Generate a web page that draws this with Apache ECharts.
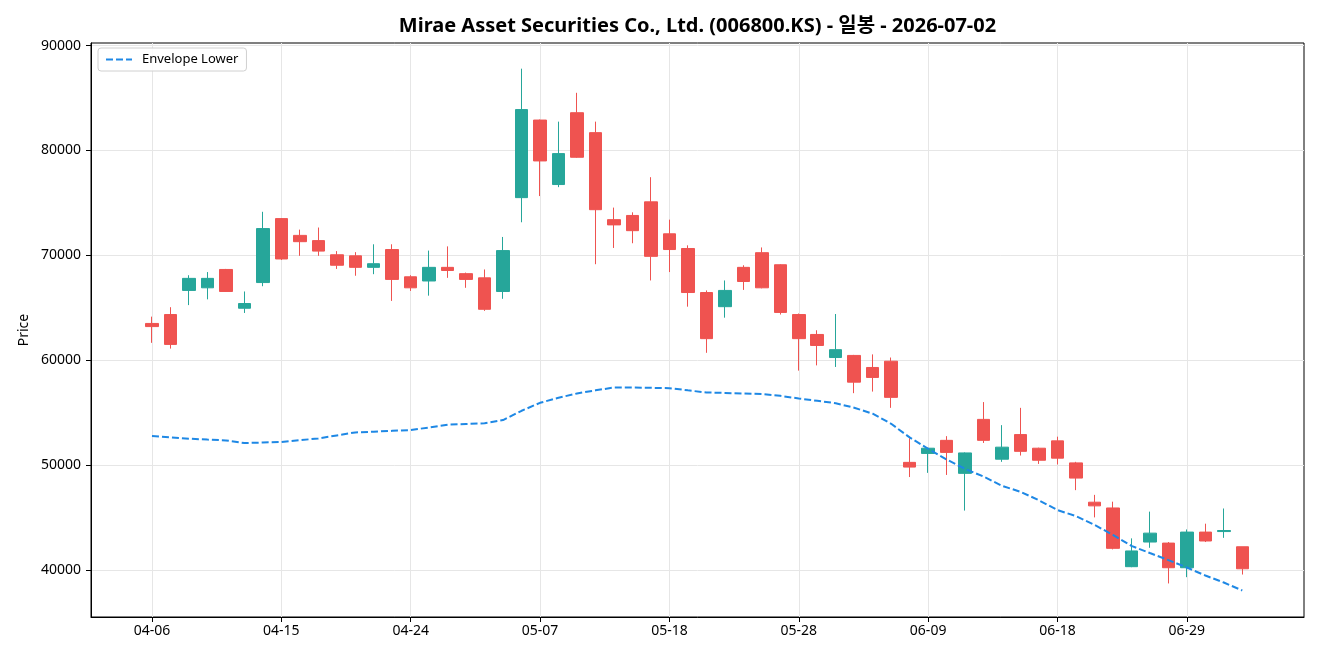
<!DOCTYPE html>
<html><head><meta charset="utf-8">
<script src="https://cdn.jsdelivr.net/npm/echarts@6/dist/echarts.min.js"></script>
<style>html,body{margin:0;padding:0;background:#fff}#c{width:1320px;height:660px}</style>
</head><body><div id="c"></div>
<script>
const dates = ['04-06','04-07','04-08','04-09','04-10','04-13','04-14','04-15','04-16','04-17',
  '04-20','04-21','04-22','04-23','04-24','04-27','04-28','04-29','04-30','05-04',
  '05-06','05-07','05-08','05-11','05-12','05-13','05-14','05-15','05-18','05-19',
  '05-20','05-21','05-22','05-26','05-27','05-28','05-29','06-01','06-02','06-04',
  '06-05','06-08','06-09','06-10','06-11','06-12','06-15','06-16','06-17','06-18',
  '06-19','06-22','06-23','06-24','06-25','06-26','06-29','06-30','07-01','07-02'];
const opens = [63500,64350,66650,66900,68650,64950,67400,73500,71900,71400,
  70050,69950,68850,70550,67950,67550,68850,68250,67850,66550,
  75500,82900,76750,83600,81700,73400,73800,75100,72050,70650,
  66450,65100,68850,70250,69100,64350,62450,60250,60450,59300,
  59900,50250,51100,52350,49200,54350,50550,52900,51600,52300,
  50200,46450,45900,40300,42650,42550,40200,43600,43650,42200];
const closes = [63200,61500,67800,67800,66550,65400,72550,69650,71300,70400,
  69050,68850,69200,67700,66900,68850,68550,67700,64850,70450,
  83900,79000,79700,79350,74350,72900,72350,69900,70550,66450,
  62050,66650,67500,66900,64550,62050,61400,61000,57900,58350,
  56450,49800,51600,51200,51150,52350,51700,51300,50450,50650,
  48750,46100,42050,41800,43500,40200,43600,42750,43750,40100];
const lows = [61650,61100,65250,65800,66500,64500,67050,69550,69950,69950,
  68700,68050,68200,65650,66600,66150,67850,66900,64700,65850,
  73150,75650,76500,79300,69150,70700,71150,67600,68400,65100,
  60700,64050,66700,66850,64350,59000,59500,59350,56850,57000,
  55450,48850,49250,49050,45650,52100,50300,50900,50100,50050,
  47600,45000,41950,40250,42100,38700,39300,42650,43050,39550];
const highs = [64150,65050,68100,68400,68700,66550,74150,73550,72450,72650,
  70400,70300,71050,71050,68100,70450,70850,68350,68650,71750,
  87800,82950,82750,85500,82750,74550,74100,77450,73400,70950,
  66650,67600,69050,70750,69150,64450,62850,64400,60500,60550,
  60250,52550,51650,52750,51200,56000,53800,55450,51650,52700,
  50300,47150,46500,43000,45550,42650,43850,44400,45850,42200];
const envelopeLower = [52760,52640,52505,52420,52343,52095,52143,52190,52362,52533,
  52820,53105,53180,53257,53333,53580,53838,53914,53981,54286,
  55170,55930,56410,56820,57120,57390,57390,57360,57330,57120,
  56914,56870,56820,56760,56600,56340,56120,55890,55460,54890,
  53930,52630,51550,50520,49630,48890,48010,47440,46630,45700,
  45120,44290,43330,42290,41600,40930,40220,39460,38790,38030];
const xTickLabels = ['04-06','04-15','04-24','05-07','05-18','05-28','06-09','06-18','06-29'];
const yTicks = [40000,50000,60000,70000,80000,90000];
const titleText = 'Mirae Asset Securities Co., Ltd. (006800.KS) - 일봉 - 2026-07-02';
const seriesName = 'Envelope Lower';

const FONT = "'Noto Sans', 'Noto Sans CJK KR', sans-serif";
const candleData = dates.map((d, i) => [i, opens[i], closes[i], lows[i], highs[i]]);
const lineData = envelopeLower.map((v, i) => [i, v]);
const xTickIdx = xTickLabels.map(l => dates.indexOf(l));

const chart = echarts.init(document.getElementById('c'), null, {renderer: 'canvas'});
chart.setOption({
  animation: false,
  backgroundColor: '#fff',
  textStyle: {fontFamily: FONT},
  grid: {left: 91, right: 16, top: 43, bottom: 43, show: true, borderColor: '#000', borderWidth: 1, backgroundColor: 'transparent'},
  xAxis: {
    type: 'value', min: -3.3, max: 62.34,
    axisLine: {show: true, onZero: false, lineStyle: {color: '#000', width: 1}},
    axisTick: {show: true, length: 5, customValues: xTickIdx, lineStyle: {color: '#000'}},
    axisLabel: {customValues: xTickIdx, formatter: v => dates[Math.round(v)] || '', color: '#000', fontSize: 14, margin: 7, fontFamily: FONT},
    splitLine: {show: true, lineStyle: {color: '#e6e6e6', width: 1}}
  },
  yAxis: {
    type: 'value', min: 35500, max: 90250,
    name: 'Price', nameLocation: 'middle', nameRotate: 90, nameGap: 60, nameMoveOverlap: false,
    nameTextStyle: {color: '#000', fontSize: 14, fontFamily: FONT},
    axisLine: {show: true, onZero: false, lineStyle: {color: '#000', width: 1}},
    axisTick: {show: true, length: 5, customValues: yTicks, lineStyle: {color: '#000'}},
    axisLabel: {customValues: yTicks, formatter: v => String(Math.round(v)), color: '#000', fontSize: 14, margin: 10, fontFamily: FONT},
    splitLine: {show: true, lineStyle: {color: '#e6e6e6', width: 1}}
  },
  legend: {
    data: [seriesName], left: 98, top: 48, orient: 'vertical',
    padding: [5, 8, 5, 7], itemWidth: 26, itemHeight: 14, itemGap: 0,
    itemStyle: {opacity: 0},
    backgroundColor: 'rgba(255,255,255,0.85)', borderColor: '#d0d0d0', borderWidth: 1, borderRadius: 3,
    textStyle: {fontSize: 13, color: '#000', fontFamily: FONT, padding: [0, 0, 0, 5]}
  },
  series: [
    {
      type: 'candlestick', name: 'OHLC', data: candleData, barWidth: 13,
      itemStyle: {color: '#26a69a', color0: '#ef5350', borderColor: '#26a69a', borderColor0: '#ef5350', borderWidth: 1}
    },
    {
      type: 'line', name: seriesName, data: lineData, symbol: 'none', z: 5,
      lineStyle: {color: '#1e88e5', width: 2, type: [7, 3]}, itemStyle: {color: '#1e88e5'}
    }
  ],
  graphic: [{
    type: 'text', x: 697.5, y: 26,
    style: {text: titleText, fill: '#000', fontSize: 20, fontWeight: 'bold', fontFamily: FONT, align: 'center', verticalAlign: 'middle'}
  }]
});
</script></body></html>
